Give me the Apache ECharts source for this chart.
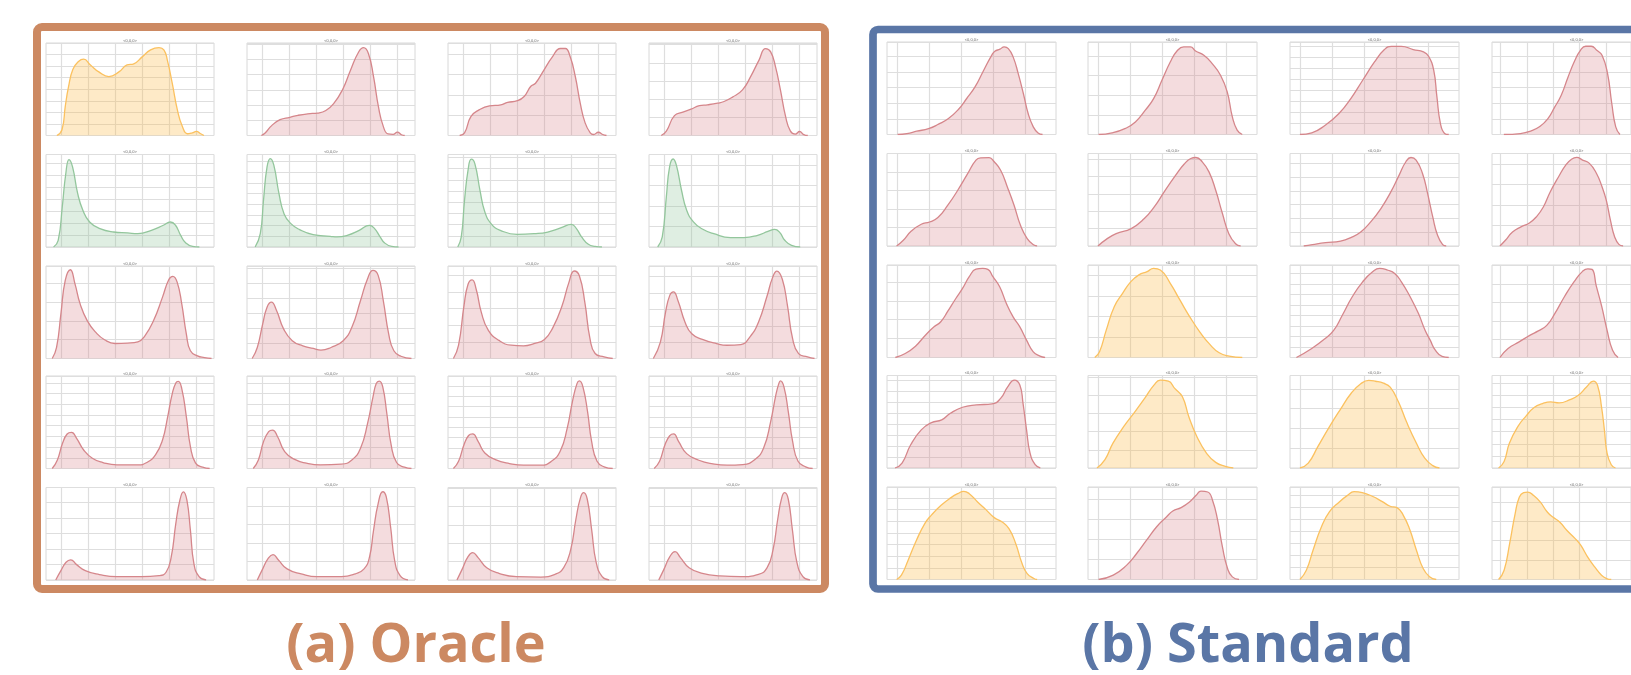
<!DOCTYPE html>
<html>
<head>
<meta charset="utf-8">
<script src="https://cdn.jsdelivr.net/npm/echarts@6/dist/echarts.min.js"></script>
<style>
html,body{margin:0;padding:0;background:#fff;}
#chart{width:1631px;height:675px;}
</style>
</head>
<body>
<div id="chart"></div>
<script>
// ---------- DATA (x in vertical-grid-line units, y in horizontal-grid-line units) ----------
const plotTitle = '<0,0,0>';
const panelTitles = ['(a) Oracle', '(b) Standard'];

const oracleXRange = [-0.55, 5.65];
const oracleXTicks = [0, 1, 2, 3, 4, 5];
const standardXRange = [-0.33, 4.95];
const standardXTicks = [0, 1, 2, 3, 4];

const oracleColors = [
  ['yellow', 'red', 'red', 'red'],
  ['green', 'green', 'green', 'green'],
  ['red', 'red', 'red', 'red'],
  ['red', 'red', 'red', 'red'],
  ['red', 'red', 'red', 'red']
];
const oracleYMax = [
  [8.0, 6.09, 4.55, 5.09],
  [7.7, 8.66, 8.27, 4.5],
  [4.93, 6.13, 5.57, 5.65],
  [8.64, 8.64, 8.95, 8.95],
  [5.96, 4.99, 5.04, 5.04]
];
const standardColors = [
  ['red', 'red', 'red', 'red'],
  ['red', 'red', 'red', 'red'],
  ['red', 'yellow', 'red', 'red'],
  ['red', 'yellow', 'yellow', 'yellow'],
  ['yellow', 'red', 'yellow', 'yellow']
];
const standardYMax = [
  [5.91, 4.71, 8.42, 5.91],
  [5.01, 5.33, 6.72, 4.5],
  [4.89, 4.5, 8.8, 5.04],
  [8.45, 5.1, 4.67, 7.63],
  [7.94, 4.63, 7.68, 4.77]
];

// Oracle curves
const oracle_r0c0 = [[-0.15,0],[0.04,0.5],[0.16,2.5],[0.28,4.2],[0.44,5.7],[0.65,6.4],[0.84,6.6],[1.09,6.1],[1.40,5.5],[1.77,5.1],[2.14,5.5],[2.44,6.1],[2.69,6.2],[3.00,6.8],[3.31,7.4],[3.62,7.6],[3.80,7.4],[3.93,6.5],[4.11,4.5],[4.30,2.2],[4.48,0.8],[4.67,0.15],[4.85,0.23],[5.00,0.35],[5.16,0.15],[5.28,0]];
const oracle_r0c1 = [[-0.02,0],[0.12,0.17],[0.36,0.65],[0.67,1.04],[1.03,1.2],[1.33,1.33],[1.69,1.43],[2.06,1.48],[2.36,1.65],[2.66,2.13],[2.97,3.0],[3.27,4.3],[3.57,5.5],[3.75,5.78],[3.93,5.4],[4.12,3.87],[4.30,1.9],[4.48,0.6],[4.66,0.1],[4.84,0.08],[5.0,0.22],[5.15,0.05],[5.27,0]];
const oracle_r0c2 = [[-0.12,0],[0.06,0.13],[0.30,0.94],[0.61,1.27],[0.98,1.46],[1.40,1.51],[1.65,1.63],[2.01,1.71],[2.26,1.92],[2.50,2.41],[2.68,2.57],[2.99,3.22],[3.29,3.84],[3.60,4.28],[3.78,4.28],[3.96,3.87],[4.15,2.89],[4.33,1.59],[4.51,0.62],[4.70,0.13],[4.82,0.05],[5.0,0.16],[5.16,0.05],[5.30,0]];
const oracle_r0c3 = [[-0.10,0],[0.09,0.24],[0.39,1.09],[0.70,1.29],[1.0,1.45],[1.31,1.64],[1.61,1.69],[1.98,1.78],[2.22,1.87],[2.53,2.11],[2.90,2.51],[3.20,3.24],[3.51,4.15],[3.75,4.78],[3.94,4.6],[4.12,3.78],[4.30,2.51],[4.49,1.05],[4.67,0.24],[4.85,0.08],[5.01,0.22],[5.16,0.05],[5.31,0]];
const oracle_r1c0 = [[-0.27,0],[-0.10,0.56],[0.05,3.33],[0.18,6.1],[0.30,7.28],[0.43,6.67],[0.62,4.44],[0.81,3.06],[1.06,2.08],[1.44,1.53],[1.95,1.25],[2.46,1.17],[2.84,1.11],[3.34,1.39],[3.78,1.81],[4.04,2.08],[4.23,1.81],[4.42,0.97],[4.61,0.33],[4.86,0.05],[5.11,0]];
const oracle_r1c1 = [[-0.25,0],[-0.06,1.25],[0.06,4.4],[0.19,7.5],[0.31,8.28],[0.44,7.66],[0.63,5.0],[0.82,3.1],[1.07,2.19],[1.39,1.63],[1.89,1.16],[2.52,1.0],[2.77,0.94],[3.15,1.09],[3.59,1.56],[3.97,2.03],[4.16,1.72],[4.35,1.0],[4.53,0.38],[4.79,0.05],[5.04,0]];
const oracle_r1c2 = [[-0.19,0],[-0.06,0.9],[0.06,4.18],[0.19,6.87],[0.31,7.85],[0.44,7.46],[0.63,5.07],[0.81,3.13],[1.06,2.03],[1.38,1.49],[2.0,1.13],[2.63,1.19],[3.13,1.34],[3.63,1.73],[4.0,2.03],[4.19,1.64],[4.38,0.9],[4.63,0.24],[4.88,0.05],[5.13,0]];
const oracle_r1c3 = [[-0.23,0],[-0.06,0.49],[0.09,2.44],[0.21,3.9],[0.34,4.28],[0.46,3.98],[0.65,2.76],[0.84,1.79],[1.09,1.22],[1.4,0.89],[1.84,0.65],[2.46,0.46],[2.96,0.46],[3.46,0.57],[3.84,0.76],[4.09,0.86],[4.28,0.7],[4.46,0.33],[4.71,0.08],[5.03,0]];
const oracle_r2c0 = [[-0.32,0],[-0.16,0.59],[0,2.38],[0.16,4.16],[0.35,4.73],[0.52,3.98],[0.71,2.91],[0.97,2.02],[1.29,1.39],[1.61,1.0],[2.0,0.8],[2.45,0.82],[2.84,0.89],[3.10,1.21],[3.42,2.02],[3.75,3.27],[3.98,4.2],[4.13,4.38],[4.29,4.07],[4.46,2.91],[4.63,1.3],[4.78,0.41],[5.04,0.14],[5.30,0.05],[5.56,0]];
const oracle_r2c1 = [[-0.36,0],[-0.17,0.73],[0.03,2.29],[0.19,3.4],[0.35,3.73],[0.54,3.18],[0.80,1.96],[1.12,1.18],[1.51,0.84],[1.90,0.67],[2.18,0.56],[2.55,0.73],[3.0,1.18],[3.32,2.07],[3.64,3.84],[3.90,5.29],[4.10,5.84],[4.29,5.51],[4.48,3.84],[4.68,1.62],[4.87,0.51],[5.13,0.15],[5.52,0]];
const oracle_r2c2 = [[-0.35,0],[-0.16,0.8],[0.04,3.18],[0.19,4.47],[0.34,4.73],[0.49,4.17],[0.68,2.78],[0.94,1.69],[1.33,1.09],[1.78,0.8],[2.24,0.76],[2.62,0.89],[3.01,1.15],[3.33,1.89],[3.66,3.18],[3.91,4.57],[4.11,5.27],[4.30,4.97],[4.50,3.38],[4.69,1.19],[4.88,0.3],[5.21,0.1],[5.53,0]];
const oracle_r2c3 = [[-0.39,0],[-0.13,1.0],[0.06,2.82],[0.22,3.87],[0.35,4.07],[0.52,3.53],[0.78,2.22],[1.03,1.51],[1.42,1.17],[1.94,0.91],[2.33,0.81],[2.84,0.85],[3.17,1.31],[3.49,2.22],[3.81,3.83],[4.01,4.94],[4.17,5.34],[4.37,4.84],[4.56,3.23],[4.75,1.21],[4.97,0.3],[5.30,0.1],[5.56,0]];
const oracle_r3c0 = [[-0.32,0],[-0.13,0.8],[0.06,2.35],[0.23,3.22],[0.39,3.37],[0.58,2.82],[0.84,1.73],[1.16,0.96],[1.55,0.56],[2.07,0.34],[2.84,0.34],[3.17,0.56],[3.49,1.27],[3.75,2.66],[3.94,4.83],[4.11,7.0],[4.24,7.99],[4.33,8.14],[4.46,7.46],[4.63,4.83],[4.78,2.04],[4.97,0.5],[5.23,0.12],[5.49,0]];
const oracle_r3c1 = [[-0.32,0],[-0.13,0.8],[0.06,2.51],[0.25,3.44],[0.39,3.59],[0.58,2.97],[0.84,1.58],[1.19,0.87],[1.64,0.5],[2.16,0.34],[2.93,0.4],[3.32,0.8],[3.64,1.89],[3.90,4.21],[4.10,6.69],[4.22,7.93],[4.33,8.17],[4.46,7.62],[4.61,5.14],[4.77,2.2],[4.97,0.56],[5.26,0.12],[5.52,0]];
const oracle_r3c2 = [[-0.35,0],[-0.16,0.7],[0.04,2.3],[0.21,3.19],[0.36,3.35],[0.56,2.62],[0.81,1.5],[1.20,0.86],[1.72,0.48],[2.24,0.32],[2.88,0.32],[3.27,0.7],[3.59,1.66],[3.85,3.9],[4.04,6.45],[4.21,8.21],[4.30,8.47],[4.43,7.89],[4.60,5.5],[4.75,2.62],[4.95,0.7],[5.21,0.16],[5.53,0]];
const oracle_r3c3 = [[-0.36,0],[-0.16,0.7],[0.04,2.3],[0.22,3.19],[0.36,3.35],[0.54,2.62],[0.84,1.44],[1.29,0.8],[1.81,0.45],[2.33,0.32],[2.91,0.38],[3.36,0.86],[3.68,1.98],[3.94,4.54],[4.13,7.09],[4.24,8.21],[4.30,8.47],[4.43,7.89],[4.59,5.5],[4.75,2.62],[4.95,0.7],[5.23,0.16],[5.49,0]];
const oracle_r4c0 = [[-0.19,0],[0,0.6],[0.19,1.14],[0.36,1.3],[0.58,0.99],[0.90,0.6],[1.42,0.35],[2.07,0.22],[2.97,0.22],[3.62,0.28],[3.88,0.5],[4.07,1.47],[4.24,3.63],[4.39,5.14],[4.52,5.68],[4.65,5.14],[4.78,3.2],[4.91,1.04],[5.10,0.22],[5.36,0]];
const oracle_r4c1 = [[-0.17,0],[0.03,0.6],[0.22,1.14],[0.41,1.37],[0.61,1.08],[0.93,0.6],[1.45,0.33],[2.03,0.18],[2.93,0.18],[3.45,0.33],[3.77,0.6],[3.97,1.23],[4.12,2.68],[4.29,4.12],[4.46,4.76],[4.59,4.48],[4.75,2.86],[4.90,1.05],[5.10,0.24],[5.39,0]];
const oracle_r4c2 = [[-0.22,0],[-0.03,0.58],[0.19,1.27],[0.36,1.49],[0.56,1.22],[0.88,0.67],[1.33,0.36],[1.98,0.18],[2.88,0.16],[3.40,0.31],[3.72,0.67],[3.98,1.67],[4.17,3.31],[4.34,4.49],[4.46,4.76],[4.59,4.4],[4.75,2.76],[4.92,0.95],[5.14,0.18],[5.40,0]];
const oracle_r4c3 = [[-0.19,0],[0,0.58],[0.22,1.27],[0.41,1.55],[0.61,1.22],[0.93,0.67],[1.42,0.36],[2.07,0.22],[2.84,0.18],[3.49,0.31],[3.81,0.67],[4.03,1.67],[4.20,3.31],[4.35,4.49],[4.46,4.76],[4.59,4.4],[4.74,2.76],[4.91,0.95],[5.13,0.18],[5.39,0]];

// Standard curves
const standard_r0c0 = [[0,0],[0.29,0.06],[0.60,0.21],[0.97,0.38],[1.28,0.66],[1.59,1.02],[1.90,1.6],[2.16,2.3],[2.42,3.04],[2.68,4.06],[2.94,5.06],[3.04,5.32],[3.20,5.45],[3.33,5.6],[3.46,5.49],[3.61,4.96],[3.77,3.89],[3.93,2.62],[4.08,1.34],[4.24,0.49],[4.39,0.1],[4.53,0]];
const standard_r0c1 = [[0,0],[0.42,0.08],[0.84,0.31],[1.15,0.64],[1.46,1.24],[1.72,1.83],[1.98,2.76],[2.24,3.69],[2.45,4.25],[2.66,4.46],[2.87,4.46],[3.03,4.25],[3.29,4.03],[3.55,3.61],[3.81,3.02],[4.02,2.17],[4.18,0.9],[4.33,0.22],[4.49,0]];
const standard_r0c2 = [[-0.02,0],[0.35,0.15],[0.77,0.85],[1.20,1.91],[1.57,3.27],[1.94,4.94],[2.31,6.6],[2.62,7.73],[2.84,8.03],[3.15,8.03],[3.52,7.73],[3.84,7.52],[4.0,7.12],[4.16,5.85],[4.26,3.42],[4.37,1.0],[4.50,0.1],[4.63,0]];
const standard_r0c3 = [[0.12,0],[0.75,0.06],[1.16,0.23],[1.47,0.49],[1.78,0.98],[2.04,1.72],[2.30,2.51],[2.56,3.68],[2.82,4.74],[3.03,5.38],[3.23,5.64],[3.44,5.64],[3.65,5.38],[3.85,5.06],[4.06,3.89],[4.22,1.98],[4.37,0.49],[4.53,0]];
const standard_r1c0 = [[-0.03,0],[0.18,0.31],[0.43,0.81],[0.74,1.18],[1.0,1.3],[1.26,1.54],[1.57,2.21],[1.88,3.02],[2.19,3.92],[2.45,4.65],[2.60,4.77],[2.86,4.79],[3.02,4.56],[3.22,4.1],[3.43,3.2],[3.64,2.21],[3.84,1.12],[4.05,0.4],[4.26,0.05],[4.36,0]];
const standard_r1c1 = [[-0.02,0],[0.24,0.38],[0.55,0.71],[1.02,1.0],[1.43,1.58],[1.74,2.25],[2.05,3.12],[2.41,4.08],[2.67,4.71],[2.88,5.04],[3.04,5.1],[3.24,4.85],[3.45,4.27],[3.66,3.21],[3.87,1.87],[4.07,0.71],[4.28,0.13],[4.44,0]];
const standard_r1c2 = [[0.10,0],[0.37,0.1],[0.78,0.24],[1.25,0.36],[1.57,0.61],[1.88,1.02],[2.19,1.75],[2.51,2.72],[2.82,3.93],[3.08,5.15],[3.29,6.12],[3.45,6.43],[3.61,6.24],[3.81,5.27],[3.97,3.81],[4.13,2.11],[4.28,0.78],[4.44,0.1],[4.55,0]];
const standard_r1c3 = [[-0.03,0],[0.18,0.28],[0.45,0.68],[0.77,0.93],[1.09,1.12],[1.35,1.41],[1.62,1.9],[1.88,2.63],[2.20,3.37],[2.47,3.93],[2.68,4.21],[2.89,4.31],[3.11,4.18],[3.37,4.02],[3.64,3.53],[3.85,2.88],[4.01,2.23],[4.17,1.25],[4.33,0.44],[4.49,0.08],[4.65,0]];
const standard_r2c0 = [[-0.07,0],[0.24,0.21],[0.56,0.6],[0.87,1.18],[1.14,1.62],[1.35,1.89],[1.56,2.42],[1.82,3.12],[2.03,3.65],[2.24,4.27],[2.45,4.67],[2.66,4.71],[2.82,4.66],[2.98,4.27],[3.19,3.74],[3.40,2.86],[3.61,2.15],[3.82,1.62],[4.03,0.92],[4.24,0.3],[4.45,0.07],[4.61,0]];
const standard_r2c1 = [[-0.12,0],[0.03,0.28],[0.24,1.33],[0.49,2.47],[0.75,3.12],[1.01,3.69],[1.26,4.02],[1.52,4.18],[1.72,4.34],[1.93,4.26],[2.24,3.61],[2.54,2.8],[2.85,1.98],[3.16,1.25],[3.47,0.65],[3.77,0.23],[4.08,0.07],[4.49,0]];
const standard_r2c2 = [[-0.13,0],[0.35,0.86],[0.77,1.81],[1.04,2.6],[1.30,4.0],[1.62,5.8],[1.94,7.2],[2.25,8.15],[2.47,8.48],[2.73,8.3],[2.94,8.0],[3.15,7.2],[3.42,5.8],[3.68,4.2],[3.89,2.6],[4.05,1.65],[4.21,0.7],[4.42,0.1],[4.63,0]];
const standard_r2c3 = [[-0.03,0],[0.28,0.49],[0.70,0.85],[1.12,1.22],[1.43,1.45],[1.75,1.75],[2.06,2.4],[2.42,3.31],[2.79,4.13],[3.10,4.68],[3.31,4.83],[3.47,4.8],[3.63,3.9],[3.84,2.77],[4.04,1.49],[4.25,0.4],[4.46,0]];
const standard_r3c0 = [[-0.08,0],[0.14,0.45],[0.41,2.12],[0.74,3.48],[1.06,4.15],[1.38,4.39],[1.65,5.0],[2.03,5.55],[2.46,5.76],[2.95,5.85],[3.22,6.36],[3.44,7.42],[3.65,8.03],[3.82,7.58],[3.92,5.91],[4.03,3.48],[4.14,1.36],[4.30,0.3],[4.46,0]];
const standard_r3c1 = [[-0.05,0],[0.20,0.46],[0.45,1.37],[0.79,2.29],[1.14,3.11],[1.44,3.84],[1.73,4.57],[1.93,4.84],[2.18,4.79],[2.38,4.39],[2.62,3.93],[2.82,2.83],[3.07,1.74],[3.37,0.82],[3.66,0.31],[3.96,0.09],[4.21,0]];
const standard_r3c2 = [[-0.02,0],[0.24,0.25],[0.54,1.08],[0.90,2.08],[1.26,3.0],[1.57,3.75],[1.88,4.25],[2.13,4.42],[2.34,4.38],[2.59,4.28],[2.80,4.08],[3.06,3.33],[3.31,2.33],[3.62,1.25],[3.88,0.5],[4.13,0.12],[4.34,0]];
const standard_r3c3 = [[-0.08,0],[0.13,0.54],[0.33,2.04],[0.65,3.41],[0.96,4.28],[1.27,4.99],[1.59,5.31],[1.90,5.45],[2.22,5.37],[2.63,5.64],[2.95,6.0],[3.26,6.68],[3.52,7.17],[3.68,6.81],[3.83,5.04],[3.94,3.13],[4.04,1.23],[4.20,0.27],[4.36,0]];
const standard_r4c0 = [[-0.03,0],[0.12,0.37],[0.33,1.66],[0.59,3.37],[0.85,4.8],[1.05,5.51],[1.36,6.37],[1.67,7.03],[1.88,7.37],[2.07,7.57],[2.24,7.37],[2.50,6.66],[2.76,6.0],[3.02,5.31],[3.27,4.94],[3.48,4.37],[3.69,3.09],[3.89,1.37],[4.05,0.51],[4.26,0.09],[4.36,0]];
const standard_r4c1 = [[0,0],[0.46,0.22],[0.88,0.72],[1.19,1.3],[1.50,1.97],[1.81,2.63],[2.12,3.13],[2.32,3.43],[2.58,3.6],[2.84,3.88],[3.05,4.22],[3.20,4.42],[3.41,4.38],[3.56,3.97],[3.72,2.97],[3.87,1.63],[4.03,0.55],[4.18,0.13],[4.39,0]];
const standard_r4c2 = [[-0.02,0],[0.18,0.77],[0.39,2.43],[0.65,4.36],[0.90,5.61],[1.21,6.44],[1.47,6.99],[1.67,7.29],[1.93,7.21],[2.24,6.91],[2.54,6.49],[2.80,6.08],[3.01,5.97],[3.21,5.33],[3.42,4.09],[3.62,2.43],[3.83,0.91],[4.03,0.22],[4.24,0]];
const standard_r4c3 = [[-0.08,0],[0.13,0.48],[0.34,1.85],[0.55,3.4],[0.71,4.25],[0.87,4.48],[1.03,4.51],[1.24,4.34],[1.50,4.0],[1.77,3.48],[1.98,3.22],[2.24,2.97],[2.51,2.54],[2.83,2.11],[3.04,1.77],[3.30,1.17],[3.57,0.65],[3.83,0.22],[4.02,0.05],[4.20,0]];

const oracleCurves = [
  [oracle_r0c0, oracle_r0c1, oracle_r0c2, oracle_r0c3],
  [oracle_r1c0, oracle_r1c1, oracle_r1c2, oracle_r1c3],
  [oracle_r2c0, oracle_r2c1, oracle_r2c2, oracle_r2c3],
  [oracle_r3c0, oracle_r3c1, oracle_r3c2, oracle_r3c3],
  [oracle_r4c0, oracle_r4c1, oracle_r4c2, oracle_r4c3]
];
const standardCurves = [
  [standard_r0c0, standard_r0c1, standard_r0c2, standard_r0c3],
  [standard_r1c0, standard_r1c1, standard_r1c2, standard_r1c3],
  [standard_r2c0, standard_r2c1, standard_r2c2, standard_r2c3],
  [standard_r3c0, standard_r3c1, standard_r3c2, standard_r3c3],
  [standard_r4c0, standard_r4c1, standard_r4c2, standard_r4c3]
];

// ---------- STYLE / LAYOUT ----------
const palette = {
  red:    {line: '#d5868b', fill: 'rgba(214,130,135,0.40)'},
  green:  {line: '#93c69c', fill: 'rgba(140,195,150,0.40)'},
  yellow: {line: '#fbc15f', fill: 'rgba(252,190,80,0.45)'}
};
const oracleColor = '#cc8962';
const standardColor = '#5a76a6';
const gridLineColor = '#dedede';

const layout = {
  oracle:   {lefts: [46, 247, 448, 649], tops: [43, 154.5, 266, 376, 487.5], w: 168, h: 92.5},
  standard: {lefts: [887, 1088, 1290, 1492], tops: [42, 153.5, 265, 375.5, 487], w: 169, h: 92.5}
};

const grids = [], xAxes = [], yAxes = [], series = [], graphics = [];

function addPanel(curves, yMax, colors, lay, xRange, xTicks) {
  for (let r = 0; r < 5; r++) {
    for (let c = 0; c < 4; c++) {
      const i = grids.length;
      const left = lay.lefts[c], top = lay.tops[r];
      grids.push({left: left, top: top, width: lay.w, height: lay.h, show: true,
        borderColor: '#d8d8d8', borderWidth: 1, containLabel: false});
      xAxes.push({gridIndex: i, type: 'value', min: xRange[0], max: xRange[1],
        axisLine: {show: false},
        axisTick: {show: false, customValues: xTicks},
        axisLabel: {show: false, customValues: xTicks},
        splitLine: {show: true, lineStyle: {color: gridLineColor, width: 1.2}}});
      yAxes.push({gridIndex: i, type: 'value', min: 0, max: yMax[r][c], interval: 1,
        axisLine: {show: false}, axisTick: {show: false}, axisLabel: {show: false},
        splitLine: {show: true, lineStyle: {color: gridLineColor, width: 1.2}}});
      const pal = palette[colors[r][c]];
      series.push({type: 'line', xAxisIndex: i, yAxisIndex: i, data: curves[r][c],
        smooth: 0.5, showSymbol: false, symbol: 'none', silent: true,
        lineStyle: {color: pal.line, width: 1.3},
        areaStyle: {color: pal.fill}, z: 2});
      graphics.push({type: 'text', x: left + lay.w / 2, y: top - 2.2, silent: true,
        style: {text: plotTitle, fill: '#666', font: '4px sans-serif',
          textAlign: 'center', textVerticalAlign: 'middle', align: 'center', verticalAlign: 'middle'}});
    }
  }
}

addPanel(oracleCurves, oracleYMax, oracleColors, layout.oracle, oracleXRange, oracleXTicks);
addPanel(standardCurves, standardYMax, standardColors, layout.standard, standardXRange, standardXTicks);

// Panel frames
graphics.push({type: 'rect', silent: true, z: 10,
  shape: {x: 37, y: 27, width: 788, height: 562, r: 5},
  style: {fill: 'none', stroke: oracleColor, lineWidth: 8}});
graphics.push({type: 'rect', silent: true, z: 10,
  shape: {x: 873, y: 29.5, width: 900, height: 559.5, r: 5},
  style: {fill: 'none', stroke: standardColor, lineWidth: 7.7}});

// Panel captions
graphics.push({type: 'text', x: 416, y: 647, silent: true,
  style: {text: panelTitles[0], fill: oracleColor, font: 'bold 54px "Open Sans"',
    textAlign: 'center', textVerticalAlign: 'middle', align: 'center', verticalAlign: 'middle'}});
graphics.push({type: 'text', x: 1248, y: 647, silent: true,
  style: {text: panelTitles[1], fill: standardColor, font: 'bold 54px "Open Sans"',
    textAlign: 'center', textVerticalAlign: 'middle', align: 'center', verticalAlign: 'middle'}});

const chart = echarts.init(document.getElementById('chart'), null, {renderer: 'canvas'});
chart.setOption({
  backgroundColor: '#ffffff',
  animation: false,
  grid: grids,
  xAxis: xAxes,
  yAxis: yAxes,
  series: series,
  graphic: {elements: graphics}
});
</script>
</body>
</html>
